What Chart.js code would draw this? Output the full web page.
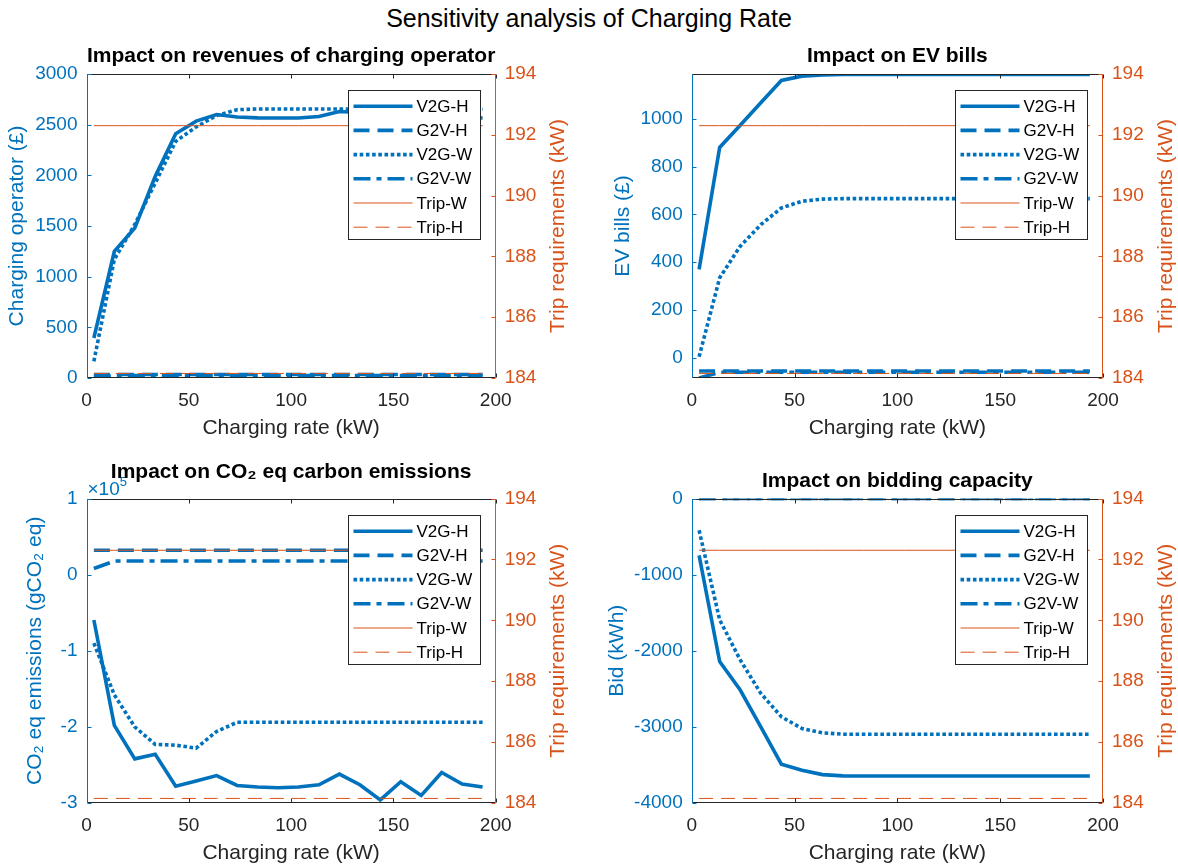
<!DOCTYPE html>
<html>
<head>
<meta charset="utf-8">
<script src="https://cdn.jsdelivr.net/npm/chart.js@4.4.0/dist/chart.umd.min.js"></script>
<style>
  body { margin: 0; width: 1178px; height: 868px; background: #fff; position: relative; overflow: hidden;
         font-family: "Liberation Sans", Arial, Helvetica, sans-serif; }
  #suptitle { position: absolute; left: 0; top: 3px; width: 1178px; text-align: center;
              font-size: 25px; line-height: 30px; color: #000; }
  canvas { position: absolute; }
</style>
</head>
<body>
<div id="suptitle">Sensitivity analysis of Charging Rate</div>
<canvas id="c1" width="589" height="420" style="left:0;top:40px"></canvas>
<canvas id="c2" width="589" height="420" style="left:589px;top:40px"></canvas>
<canvas id="c3" width="589" height="408" style="left:0;top:460px"></canvas>
<canvas id="c4" width="589" height="408" style="left:589px;top:460px"></canvas>
<script>
const FONT = '"Liberation Sans", Arial, Helvetica, sans-serif';
const BLUE = '#0072BD';
const ORANGE = '#D95319';
const DARK = '#262626';

// charging rate (kW), shared by every panel
const chargingRate = [3.6, 13.6, 23.6, 33.6, 43.6, 53.6, 63.6, 73.6, 83.6, 93.6,
                      103.6, 113.6, 123.6, 133.6, 143.6, 153.6, 163.6, 173.6, 183.6, 193.6];
const rateTicks = [0, 50, 100, 150, 200];

// trip requirements (right axis, kW)
const tripTicks = [184, 186, 188, 190, 192, 194];
const tripW = [192.3, 192.3, 192.3, 192.3, 192.3, 192.3, 192.3, 192.3, 192.3, 192.3,
               192.3, 192.3, 192.3, 192.3, 192.3, 192.3, 192.3, 192.3, 192.3, 192.3];
const tripH = [184.15, 184.15, 184.15, 184.15, 184.15, 184.15, 184.15, 184.15, 184.15, 184.15,
               184.15, 184.15, 184.15, 184.15, 184.15, 184.15, 184.15, 184.15, 184.15, 184.15];

// revenues of charging operator (£)
const revTicks = [0, 500, 1000, 1500, 2000, 2500, 3000];
const revV2GH = [395, 1250, 1480, 1990, 2410, 2535, 2600, 2575, 2567, 2566,
                 2566, 2580, 2630, 2620, 2605, 2595, 2585, 2578, 2572, 2566];
const revG2VH = [35, 35, 35, 35, 35, 35, 35, 35, 35, 35, 35, 35, 35, 35, 35, 35, 35, 35, 35, 35];
const revV2GW = [165, 1170, 1515, 1925, 2335, 2478, 2590, 2648, 2655, 2655,
                 2655, 2655, 2655, 2655, 2655, 2655, 2655, 2655, 2655, 2652];
const revG2VW = [10, 25, 25, 25, 25, 25, 25, 25, 25, 25, 25, 25, 25, 25, 25, 25, 25, 25, 25, 25];

// EV bills (£)
const billTicks = [0, 200, 400, 600, 800, 1000];
const billV2GH = [370, 880, 973, 1067, 1160, 1178, 1183, 1185, 1185, 1185,
                  1185, 1185, 1185, 1185, 1185, 1185, 1185, 1185, 1185, 1185];
const billG2VH = [-55, -55, -55, -55, -55, -55, -55, -55, -55, -55,
                  -55, -55, -55, -55, -55, -55, -55, -55, -55, -55];
const billV2GW = [5, 335, 467, 557, 627, 655, 664, 666, 666, 666,
                  666, 666, 666, 666, 666, 666, 666, 666, 666, 666];
const billG2VW = [-84, -60, -60, -60, -60, -60, -60, -60, -60, -60,
                  -60, -60, -60, -60, -60, -60, -60, -60, -60, -60];

// CO2 eq emissions (gCO2 eq)
const co2Ticks = [-300000, -200000, -100000, 0, 100000];
const co2V2GH = [-59600, -198000, -242000, -236000, -278000, -271000, -264000, -277000, -279000, -280000,
                 -279000, -276000, -262000, -276000, -296000, -272000, -290000, -260000, -275000, -279000];
const co2G2VH = [32000, 32000, 32000, 32000, 32000, 32000, 32000, 32000, 32000, 32000,
                 32000, 32000, 32000, 32000, 32000, 32000, 32000, 32000, 32000, 32000];
const co2V2GW = [-90000, -158000, -200000, -223000, -224000, -228000, -206000, -194000, -194000, -194000,
                 -194000, -194000, -194000, -194000, -194000, -194000, -194000, -194000, -194000, -194000];
const co2G2VW = [8000, 17800, 17800, 17800, 17800, 17800, 17800, 17800, 17800, 17800,
                 17800, 17800, 17800, 17800, 17800, 17800, 17800, 17800, 17800, 17800];

// bidding capacity (kWh)
const bidTicks = [-4000, -3000, -2000, -1000, 0];
const bidV2GH = [-746, -2143, -2516, -3000, -3490, -3570, -3627, -3644, -3645, -3645,
                 -3645, -3645, -3645, -3645, -3645, -3645, -3645, -3645, -3645, -3645];
const bidG2VH = [0, 0, 0, 0, 0, 0, 0, 0, 0, 0, 0, 0, 0, 0, 0, 0, 0, 0, 0, 0];
const bidV2GW = [-417, -1594, -2121, -2560, -2867, -3021, -3078, -3096, -3096, -3096,
                 -3096, -3096, -3096, -3096, -3096, -3096, -3096, -3096, -3096, -3096];
const bidG2VW = [0, 0, 0, 0, 0, 0, 0, 0, 0, 0, 0, 0, 0, 0, 0, 0, 0, 0, 0, 0];

const lineStyles = {
    'V2G-H':  { color: BLUE,   width: 3.6, dash: [] },
    'G2V-H':  { color: BLUE,   width: 3.6, dash: [16, 8] },
    'V2G-W':  { color: BLUE,   width: 3.6, dash: [3.6, 2.6] },
    'G2V-W':  { color: BLUE,   width: 3.6, dash: [17, 6, 5, 6] },
    'Trip-W': { color: ORANGE, width: 1,   dash: [] },
    'Trip-H': { color: ORANGE, width: 1,   dash: [14, 8] }
};

function series(label, values, axis, order) {
    const st = lineStyles[label];
    return {
        label: label,
        data: chargingRate.map((r, i) => ({ x: r, y: values[i] })),
        yAxisID: axis,
        borderColor: st.color,
        borderWidth: st.width,
        borderDash: st.dash,
        borderCapStyle: 'butt',
        pointRadius: 0,
        tension: 0,
        fill: false,
        order: order
    };
}

// matlab style box: coloured y axes, inward ticks, mirrored x ticks on top
const axesBox = {
    id: 'axesBox',
    afterDatasetsDraw(chart) {
        const { ctx, chartArea: a, scales } = chart;
        const tl = 4;
        const L = Math.round(a.left) + 0.5, R = Math.round(a.right) - 0.5;
        const T = Math.round(a.top) + 0.5, B = Math.round(a.bottom) - 0.5;
        ctx.save();
        ctx.lineWidth = 1;
        ctx.setLineDash([]);

        ctx.strokeStyle = DARK;
        ctx.beginPath();
        ctx.moveTo(L, T); ctx.lineTo(R, T);
        ctx.moveTo(L, B); ctx.lineTo(R, B);
        scales.x.ticks.forEach(t => {
            const px = Math.round(scales.x.getPixelForValue(t.value)) + 0.5;
            ctx.moveTo(px, B); ctx.lineTo(px, B - tl);
            ctx.moveTo(px, T); ctx.lineTo(px, T + tl);
        });
        ctx.stroke();

        ctx.strokeStyle = BLUE;
        ctx.beginPath();
        ctx.moveTo(L, T); ctx.lineTo(L, B);
        scales.y.ticks.forEach(t => {
            const py = Math.round(scales.y.getPixelForValue(t.value)) + 0.5;
            ctx.moveTo(L, py); ctx.lineTo(L + tl, py);
        });
        ctx.stroke();

        ctx.strokeStyle = ORANGE;
        ctx.beginPath();
        ctx.moveTo(R, T); ctx.lineTo(R, B);
        scales.y2.ticks.forEach(t => {
            const py = Math.round(scales.y2.getPixelForValue(t.value)) + 0.5;
            ctx.moveTo(R, py); ctx.lineTo(R - tl, py);
        });
        ctx.stroke();
        ctx.restore();
    }
};

// boxed legend in the north-east corner of the plot area
const boxLegend = {
    id: 'boxLegend',
    afterDraw(chart) {
        const { ctx, chartArea: a } = chart;
        const w = 132, h = 149, rowH = 24.2;
        const left = Math.round(a.right - 16 - w) + 0.5;
        const top = Math.round(a.top + 16) + 0.5;
        ctx.save();
        ctx.fillStyle = '#fff';
        ctx.fillRect(left, top, w, h);
        ctx.strokeStyle = DARK;
        ctx.lineWidth = 1;
        ctx.setLineDash([]);
        ctx.strokeRect(left, top, w, h);
        ctx.font = '17px ' + FONT;
        ctx.textBaseline = 'middle';
        ctx.textAlign = 'left';
        chart.data.datasets.forEach((ds, i) => {
            const y = top + 15.7 + i * rowH;
            ctx.strokeStyle = ds.borderColor;
            ctx.lineWidth = ds.borderWidth;
            ctx.setLineDash(ds.borderDash);
            ctx.beginPath();
            ctx.moveTo(left + 5, y);
            ctx.lineTo(left + 64, y);
            ctx.stroke();
            ctx.fillStyle = '#000';
            ctx.fillText(ds.label, left + 68, y + 1);
        });
        ctx.restore();
    }
};

// axes title centred over the plot area, "x10^n" multiplier, right label read bottom-up
const panelText = {
    id: 'panelText',
    beforeDatasetsDraw(chart, args, opts) {
        const { ctx, chartArea: a } = chart;
        ctx.save();
        ctx.textBaseline = 'middle';
        if (opts.exponent) {
            ctx.fillStyle = BLUE;
            ctx.textAlign = 'left';
            ctx.font = '19px ' + FONT;
            const base = '\u00d710';
            ctx.fillText(base, a.left + 1, a.top - 9);
            const bw = ctx.measureText(base).width;
            ctx.font = '13px ' + FONT;
            ctx.fillText(opts.exponent, a.left + 1 + bw, a.top - 16);
        }
        ctx.fillStyle = '#000';
        ctx.textAlign = 'center';
        ctx.font = 'bold 21px ' + FONT;
        ctx.fillText(opts.title, (a.left + a.right) / 2, opts.titleY);

        ctx.fillStyle = ORANGE;
        ctx.font = '21px ' + FONT;
        ctx.translate(chart.width - opts.rightOffset, (a.top + a.bottom) / 2);
        ctx.rotate(-Math.PI / 2);
        ctx.fillText('Trip requirements (kW)', 0, 0);
        ctx.restore();
    }
};

function makePanel(id, p) {
    const datasets = [
        series('V2G-H', p.v2gH, 'y', 5),
        series('G2V-H', p.g2vH, 'y', 4),
        series('V2G-W', p.v2gW, 'y', 3),
        series('G2V-W', p.g2vW, 'y', 2),
        series('Trip-W', tripW, 'y2', 1),
        series('Trip-H', tripH, 'y2', 0)
    ];
    new Chart(document.getElementById(id), {
        type: 'line',
        data: { datasets: datasets },
        options: {
            responsive: false,
            animation: false,
            layout: { padding: { top: p.top, left: 0, right: 0, bottom: 0 } },
            plugins: {
                legend: { display: false },
                tooltip: { enabled: false },
                title: { display: false },
                panelText: { title: p.title, titleY: p.titleY, exponent: p.exponent || '', rightOffset: p.rightOffset }
            },
            scales: {
                x: {
                    type: 'linear',
                    min: 0,
                    max: 200,
                    afterBuildTicks: s => { s.ticks = rateTicks.map(v => ({ value: v })); },
                    afterFit: s => { s.height = p.xH; },
                    grid: { display: false, drawTicks: false },
                    border: { display: false },
                    ticks: {
                        color: DARK, padding: 11.6, maxRotation: 0, autoSkip: false,
                        font: { family: FONT, size: 19, lineHeight: 1.2 },
                        callback: v => String(v)
                    },
                    title: {
                        display: true, text: 'Charging rate (kW)', color: DARK,
                        font: { family: FONT, size: 21, lineHeight: 1.2 },
                        padding: { top: 0, bottom: p.xTitlePad }
                    }
                },
                y: {
                    type: 'linear',
                    position: 'left',
                    min: p.yMin,
                    max: p.yMax,
                    afterBuildTicks: s => { s.ticks = p.yTicks.map(v => ({ value: v })); },
                    afterFit: s => { s.width = p.leftW; },
                    grid: { display: false, drawTicks: false },
                    border: { display: false },
                    ticks: {
                        color: BLUE, padding: 9, autoSkip: false,
                        font: { family: FONT, size: 19, lineHeight: 1.2 },
                        callback: p.tickFmt || (v => String(v))
                    },
                    title: {
                        display: true, text: p.yLabel, color: BLUE,
                        font: { family: FONT, size: 21, lineHeight: 1.2 },
                        padding: { top: p.yTitlePad, bottom: 0 }
                    }
                },
                y2: {
                    type: 'linear',
                    position: 'right',
                    min: 184,
                    max: 194,
                    afterBuildTicks: s => { s.ticks = tripTicks.map(v => ({ value: v })); },
                    afterFit: s => { s.width = p.rightW; },
                    grid: { display: false, drawTicks: false },
                    border: { display: false },
                    ticks: {
                        color: ORANGE, padding: 9, autoSkip: false,
                        font: { family: FONT, size: 19, lineHeight: 1.2 },
                        callback: v => String(v)
                    }
                }
            }
        },
        plugins: [axesBox, boxLegend, panelText]
    });
}

makePanel('c1', {
    title: 'Impact on revenues of charging operator',
    top: 34, titleY: 16.6, xH: 82, xTitlePad: 19.4,
    leftW: 86.5, rightW: 93.3, yTitlePad: 4.9, rightOffset: 31,
    yLabel: 'Charging operator (\u00a3)',
    yMin: 0, yMax: 3000, yTicks: revTicks,
    v2gH: revV2GH, g2vH: revG2VH, v2gW: revV2GW, g2vW: revG2VW
});

makePanel('c2', {
    title: 'Impact on EV bills',
    top: 34, titleY: 16.6, xH: 82, xTitlePad: 19.4,
    leftW: 102.7, rightW: 75, yTitlePad: 21.9, rightOffset: 11.5,
    yLabel: 'EV bills (\u00a3)',
    yMin: -84, yMax: 1187, yTicks: billTicks,
    v2gH: billV2GH, g2vH: billG2VH, v2gW: billV2GW, g2vW: billG2VW
});

makePanel('c3', {
    title: 'Impact on CO\u2082 eq carbon emissions',
    top: 38.5, titleY: 12.7, xH: 65, xTitlePad: 2.4,
    leftW: 86.5, rightW: 93.3, yTitlePad: 22.4, rightOffset: 31,
    yLabel: 'CO\u2082 eq emissions (gCO\u2082 eq)',
    yMin: -300000, yMax: 100000, yTicks: co2Ticks,
    tickFmt: v => String(v / 100000),
    exponent: '5',
    v2gH: co2V2GH, g2vH: co2G2VH, v2gW: co2V2GW, g2vW: co2G2VW
});

makePanel('c4', {
    title: 'Impact on bidding capacity',
    top: 38.5, titleY: 21.7, xH: 65, xTitlePad: 2.4,
    leftW: 102.7, rightW: 75, yTitlePad: 15.9, rightOffset: 11.5,
    yLabel: 'Bid (kWh)',
    yMin: -4000, yMax: 0, yTicks: bidTicks,
    v2gH: bidV2GH, g2vH: bidG2VH, v2gW: bidV2GW, g2vW: bidG2VW
});
</script>
</body>
</html>
